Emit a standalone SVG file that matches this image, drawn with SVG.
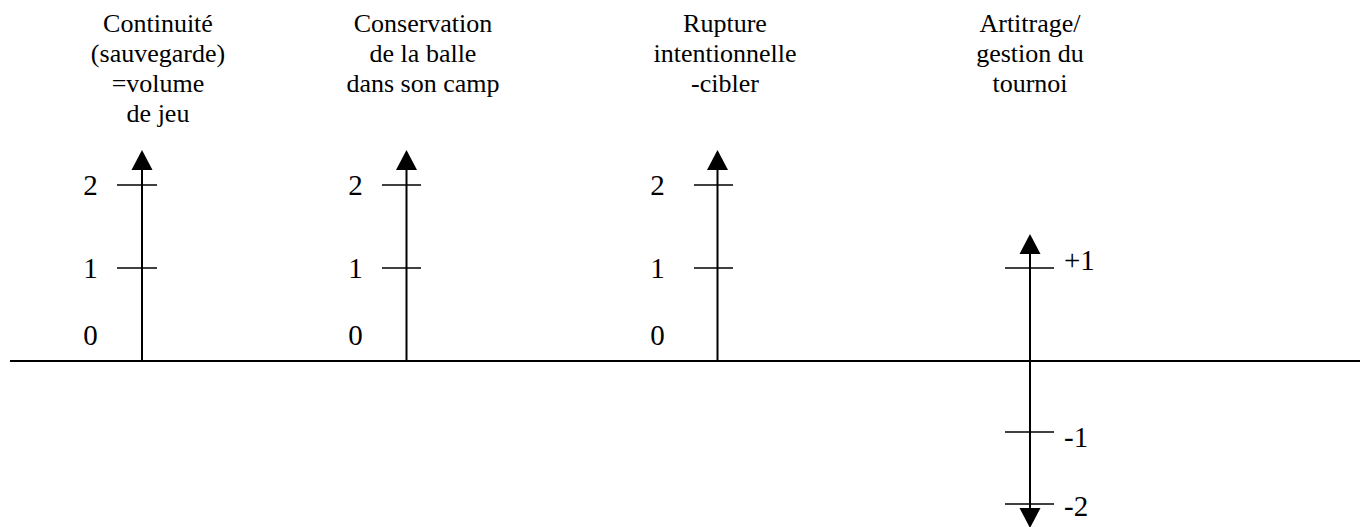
<svg xmlns="http://www.w3.org/2000/svg" width="1360" height="527" viewBox="0 0 1360 527">
<style>
text{font-family:"Liberation Serif","Times New Roman",serif;fill:#000}
.t{font-size:26px;text-anchor:middle}
.n{font-size:29px;text-anchor:middle}
.m{font-size:29px;text-anchor:start}
.ax{stroke:#000;stroke-width:2;fill:none}
.tk{stroke:#000;stroke-width:1.6;fill:none}
.ah{fill:#000}
</style>
<rect width="1360" height="527" fill="#fff"/>
<g id="connectors">
<line class="ax" x1="10" y1="361" x2="1360" y2="361"/>
</g>
<g id="axis1">
<text class="t" x="158" y="32">Continuité</text>
<text class="t" x="158" y="62">(sauvegarde)</text>
<text class="t" x="158" y="92">=volume</text>
<text class="t" x="158" y="122">de jeu</text>
<line class="ax" x1="142" y1="165" x2="142" y2="361"/>
<polygon class="ah" points="142,150 131.5,170 152.5,170"/>
<line class="tk" x1="117" y1="185" x2="157" y2="185"/>
<line class="tk" x1="117" y1="268" x2="157" y2="268"/>
<text class="n" x="90.5" y="195">2</text>
<text class="n" x="90.5" y="278">1</text>
<text class="n" x="90.5" y="345">0</text>
</g>
<g id="axis2">
<text class="t" x="423" y="32">Conservation</text>
<text class="t" x="423" y="62">de la balle</text>
<text class="t" x="423" y="92">dans son camp</text>
<line class="ax" x1="406.5" y1="165" x2="406.5" y2="361"/>
<polygon class="ah" points="406.5,150 396,170 417,170"/>
<line class="tk" x1="382" y1="185" x2="421" y2="185"/>
<line class="tk" x1="382" y1="268" x2="421" y2="268"/>
<text class="n" x="355.5" y="195">2</text>
<text class="n" x="355.5" y="278">1</text>
<text class="n" x="355.5" y="345">0</text>
</g>
<g id="axis3">
<text class="t" x="725" y="32">Rupture</text>
<text class="t" x="725" y="62">intentionnelle</text>
<text class="t" x="725" y="92">-cibler</text>
<line class="ax" x1="717.5" y1="165" x2="717.5" y2="361"/>
<polygon class="ah" points="717.5,150 707,170 728,170"/>
<line class="tk" x1="694" y1="185" x2="733" y2="185"/>
<line class="tk" x1="694" y1="268" x2="733" y2="268"/>
<text class="n" x="657.5" y="195">2</text>
<text class="n" x="657.5" y="278">1</text>
<text class="n" x="657.5" y="345">0</text>
</g>
<g id="axis4">
<text class="t" x="1030" y="32">Artitrage/</text>
<text class="t" x="1030" y="62">gestion du</text>
<text class="t" x="1030" y="92">tournoi</text>
<line class="ax" x1="1030" y1="245" x2="1030" y2="515"/>
<polygon class="ah" points="1030,234 1019.5,254 1040.5,254"/>
<polygon class="ah" points="1030,528 1019.5,508 1040.5,508"/>
<line class="tk" x1="1005" y1="268" x2="1054" y2="268"/>
<line class="tk" x1="1005" y1="432" x2="1054" y2="432"/>
<line class="tk" x1="1005" y1="504" x2="1054" y2="504"/>
<text class="m" x="1064" y="270">+1</text>
<text class="m" x="1064" y="447">-1</text>
<text class="m" x="1064" y="516">-2</text>
</g>
</svg>
